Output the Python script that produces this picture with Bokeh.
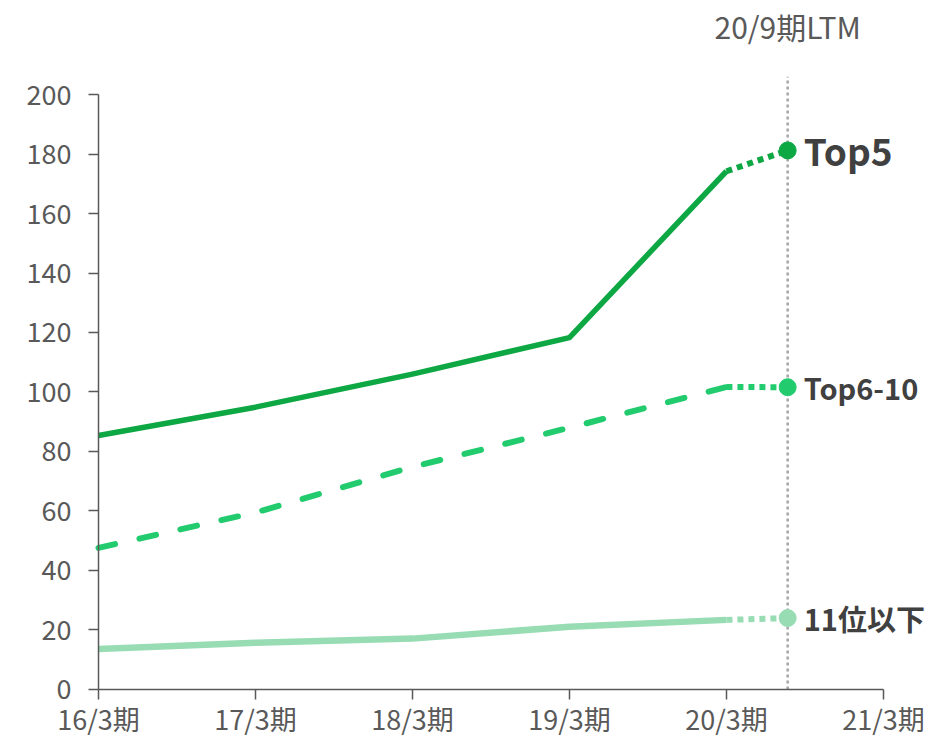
from bokeh.plotting import figure
from bokeh.models import Range1d, FixedTicker
from bokeh.embed import file_html
from bokeh.resources import INLINE
from bokeh.core.properties import value

# ---------------- data ----------------
categories = ["16/3期", "17/3期", "18/3期", "19/3期", "20/3期", "21/3期"]
x_years = [0, 1, 2, 3, 4]
x_ltm = 4.39
ltm_label = "20/9期LTM"

top5 = [85.4, 94.9, 106.0, 118.3, 174.2]
top5_ltm = 181.2
top6_10 = [47.6, 59.5, 74.8, 88.0, 101.7]
top6_10_ltm = 101.6
rest = [13.6, 15.7, 17.1, 21.1, 23.4]
rest_ltm = 24.0

series_names = ["Top5", "Top6-10", "11位以下"]
y_ticks = [0, 20, 40, 60, 80, 100, 120, 140, 160, 180, 200]

# ---------------- styles ----------------
C_TOP5 = "#0DA844"
C_TOP610 = "#22CC6E"
C_REST = "#98DCB4"
GREY = "#595959"
LABEL_C = "#404040"
FONT = "Noto Sans CJK JP"

p = figure(width=925, height=742, output_backend="svg", toolbar_location=None,
           x_range=Range1d(-0.624, 5.268), y_range=Range1d(-17.82, 231.6),
           min_border_left=0, min_border_right=0, min_border_top=0,
           min_border_bottom=0)
p.outline_line_color = None
p.xgrid.visible = False
p.ygrid.visible = False
p.background_fill_color = "white"
p.border_fill_color = "white"

# axes (pinned to the data origin so the frame spans the whole canvas)
p.xaxis.ticker = FixedTicker(ticks=list(range(len(categories))))
p.xaxis.major_label_overrides = {i: c for i, c in enumerate(categories)}
p.xaxis.bounds = (0, 5)
p.xaxis.fixed_location = 0
p.yaxis.ticker = FixedTicker(ticks=y_ticks)
p.yaxis.bounds = (0, 200)
p.yaxis.fixed_location = 0
for ax in (p.xaxis, p.yaxis):
    ax.axis_line_color = GREY
    ax.axis_line_width = 1.5
    ax.major_tick_line_color = GREY
    ax.major_tick_line_width = 1.5
    ax.major_tick_out = 10
    ax.major_tick_in = 0
    ax.minor_tick_line_color = None
    ax.major_label_text_color = GREY
    ax.major_label_text_font = FONT
    ax.major_label_text_font_size = "27px"
p.yaxis.major_label_standoff = 17
p.xaxis.major_label_standoff = 0

# LTM vertical dotted line
p.segment(x0=[x_ltm], y0=[0], x1=[x_ltm], y1=[206], line_color="#A6A6A6",
          line_width=2.5, line_dash="3 3")
p.text(x=[x_ltm], y=[223], text=[ltm_label], text_align="center",
       text_baseline="middle", text_color=GREY, text_font=value(FONT),
       text_font_size="30px")

# series lines
p.line(x_years, top5, line_color=C_TOP5, line_width=5.5, line_join="round")
p.line(x_years, top6_10, line_color=C_TOP610, line_width=6, line_join="round",
       line_cap="round", line_dash="17 25")
p.line(x_years, rest, line_color=C_REST, line_width=6.5, line_join="round")

# dotted LTM extensions
for ys, ltm, c in ((top5, top5_ltm, C_TOP5), (top6_10, top6_10_ltm, C_TOP610),
                   (rest, rest_ltm, C_REST)):
    p.line([x_years[-1], x_ltm], [ys[-1], ltm], line_color=c, line_width=6,
           line_dash="6 5")
    p.scatter([x_ltm], [ltm], size=17, color=c)

# end labels
p.text(x=[x_ltm], y=[top5_ltm], text=[series_names[0]], x_offset=16,
       text_align="left", text_baseline="middle", text_color=LABEL_C,
       text_font=value(FONT), text_font_style="bold", text_font_size="37px")
p.text(x=[x_ltm, x_ltm], y=[top6_10_ltm, rest_ltm], text=series_names[1:],
       x_offset=16, text_align="left", text_baseline="middle",
       text_color=LABEL_C, text_font=value(FONT), text_font_style="bold",
       text_font_size="29px")

open("out.html", "w").write(file_html(p, INLINE))
